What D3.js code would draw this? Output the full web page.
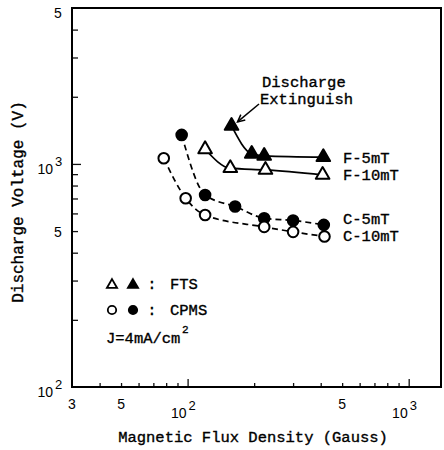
<!DOCTYPE html>
<html><head><meta charset="utf-8">
<script src="https://cdn.jsdelivr.net/npm/d3@7/dist/d3.min.js"></script>
<style>body{margin:0;background:#fff}svg{display:block}</style>
</head><body>
<svg id="c" width="444" height="450"></svg>
<script>
// ---- data ----
const xMinorTicks = [40, 50, 60, 70, 80, 90, 200, 300, 400, 500, 600, 700, 800, 900];
const xMajorTicks = [100, 1000];
const xLabelValues = [30, 50, 100, 500, 1000];
const xLabelBase = ["3", "5", "10", "5", "10"];
const xLabelSup = ["", "", "2", "", "3"];

const yMinorTicks = [200, 300, 400, 500, 600, 700, 800, 900, 2000, 3000, 4000];
const yMajorTicks = [1000];
const yLabelValues = [100, 500, 1000, 5000];
const yLabelBase = ["10", "5", "10", "5"];
const yLabelSup = ["2", "", "3", ""];

const seriesNames = ["F-5mT", "F-10mT", "C-5mT", "C-10mT"];
const f5Gauss = [158, 195, 222, 411];
const f5Volt = [1480, 1109, 1086, 1072];
const f10Gauss = [120, 156, 225, 408];
const f10Volt = [1164, 957, 940, 893];
const c5Gauss = [94, 120, 164, 222, 300, 413];
const c5Volt = [1349, 726, 644, 571, 558, 533];
const c10Gauss = [78, 98, 120, 222, 300, 416];
const c10Volt = [1061, 702, 590, 522, 496, 473];

const legendRows = ["FTS", "CPMS"];
const annotationLines = ["Discharge", "Extinguish"];

// ---- drawing ----
const svg = d3.select("#c");
const mono = "'Liberation Mono', 'Courier New', monospace";
const sans = "'Liberation Sans', Arial, sans-serif";
const x = d3.scaleLog().domain([30, 1400]).range([72, 441]);
const y = d3.scaleLog().domain([100, 5000]).range([387, 8]);

function monoText(px, py, str, size) {
  return svg.append("text").attr("x", px).attr("y", py)
    .attr("font-family", mono).attr("font-size", size || 15.5)
    .attr("stroke", "#000").attr("stroke-width", 0.35).attr("fill", "#000").text(str);
}

// ticks (inward)
function tickAxis(axisFn, vals, size, transform) {
  const g = svg.append("g").attr("transform", transform)
    .call(axisFn.tickValues(vals).tickSize(size).tickFormat(""));
  g.select(".domain").remove();
  g.selectAll("line").attr("stroke", "#111").attr("stroke-width", 1.3);
}
tickAxis(d3.axisBottom(x), xMinorTicks, -4, "translate(0,387)");
tickAxis(d3.axisBottom(x), xMajorTicks, -8, "translate(0,387)");
tickAxis(d3.axisLeft(y), yMinorTicks, -6, "translate(72,0)");
tickAxis(d3.axisLeft(y), yMajorTicks, -9, "translate(72,0)");

// frame
svg.append("rect").attr("x", x.range()[0]).attr("y", y.range()[1])
  .attr("width", x.range()[1] - x.range()[0]).attr("height", y.range()[0] - y.range()[1])
  .attr("fill", "none").attr("stroke", "#000").attr("stroke-width", 2);

// tick labels x
xLabelValues.forEach((v, i) => {
  const px = x(v);
  if (xLabelSup[i]) {
    svg.append("text").attr("x", px - 1).attr("y", 418).attr("text-anchor", "end")
      .attr("font-family", sans).attr("font-size", 14).text(xLabelBase[i]);
    svg.append("text").attr("x", px + 1).attr("y", 410).attr("text-anchor", "start")
      .attr("font-family", sans).attr("font-size", 13).text(xLabelSup[i]);
  } else {
    svg.append("text").attr("x", px).attr("y", 409).attr("text-anchor", "middle")
      .attr("font-family", sans).attr("font-size", 14).text(xLabelBase[i]);
  }
});
// tick labels y
yLabelValues.forEach((v, i) => {
  const py = y(v);
  if (yLabelSup[i]) {
    svg.append("text").attr("x", 53).attr("y", py + 10).attr("text-anchor", "end")
      .attr("font-family", sans).attr("font-size", 14).text(yLabelBase[i]);
    svg.append("text").attr("x", 55).attr("y", py + 2).attr("text-anchor", "start")
      .attr("font-family", sans).attr("font-size", 13).text(yLabelSup[i]);
  } else {
    svg.append("text").attr("x", 58).attr("y", Math.max(py + 6, 18)).attr("text-anchor", "middle")
      .attr("font-family", sans).attr("font-size", 14).text(yLabelBase[i]);
  }
});

// axis titles
monoText(253, 442, "Magnetic Flux Density (Gauss)").attr("text-anchor", "middle");
svg.append("text").attr("transform", "translate(23,202) rotate(-90)").attr("text-anchor", "middle")
  .attr("font-family", mono).attr("font-size", 16)
  .attr("stroke", "#000").attr("stroke-width", 0.35).text("Discharge Voltage (V)");

// series
const series = [
  {gx: f5Gauss, vy: f5Volt, shape: "tri", fill: "#000", dash: null, labDy: 6},
  {gx: f10Gauss, vy: f10Volt, shape: "tri", fill: "#fff", dash: null, labDy: 5},
  {gx: c5Gauss, vy: c5Volt, shape: "circ", fill: "#000", dash: "6,4", labDy: -1},
  {gx: c10Gauss, vy: c10Volt, shape: "circ", fill: "#fff", dash: "6,4", labDy: 5}
];
const line = d3.line().x(d => x(d[0])).y(d => y(d[1])).curve(d3.curveMonotoneX);
series.forEach(s => {
  const pts = s.gx.map((g, i) => [g, s.vy[i]]);
  svg.append("path").attr("d", line(pts)).attr("fill", "none")
    .attr("stroke", "#000").attr("stroke-width", 1.7)
    .attr("stroke-dasharray", s.dash);
});
const triSym = d3.symbol().type(d3.symbolTriangle).size(80);
series.forEach(s => {
  const pts = s.gx.map((g, i) => [g, s.vy[i]]);
  if (s.shape === "tri") {
    svg.append("g").selectAll("path").data(pts).join("path")
      .attr("d", triSym).attr("transform", d => `translate(${x(d[0])},${y(d[1])})`)
      .attr("fill", s.fill).attr("stroke", "#000").attr("stroke-width", 2)
      .attr("stroke-linejoin", "round");
  } else {
    svg.append("g").selectAll("circle").data(pts).join("circle")
      .attr("cx", d => x(d[0])).attr("cy", d => y(d[1])).attr("r", 5.3)
      .attr("fill", s.fill).attr("stroke", "#000").attr("stroke-width", 2);
  }
});

// series labels
series.forEach((s, i) => {
  const last = s.vy[s.vy.length - 1];
  monoText(343, y(last) + s.labDy, seriesNames[i]);
});

// annotation
monoText(262, 87, annotationLines[0]);
monoText(260, 104, annotationLines[1]);
{
  const tx = x(f5Gauss[0]) + 6, ty = y(f5Volt[0]) - 4;
  const sx = 259, sy = 104;
  svg.append("line").attr("x1", sx).attr("y1", sy).attr("x2", tx).attr("y2", ty)
    .attr("stroke", "#000").attr("stroke-width", 1.5);
  const ang = Math.atan2(ty - sy, tx - sx);
  const L = 8, W = 0.45;
  const p1 = [tx - L * Math.cos(ang - W), ty - L * Math.sin(ang - W)];
  const p2 = [tx - L * Math.cos(ang + W), ty - L * Math.sin(ang + W)];
  svg.append("path").attr("d", `M${p1}L${tx},${ty}L${p2}`).attr("fill", "none")
    .attr("stroke", "#000").attr("stroke-width", 1.5);
}

// legend
const legY = [284, 310];
legendRows.forEach((name, i) => {
  const cy = legY[i];
  if (i === 0) {
    svg.append("path").attr("d", d3.symbol().type(d3.symbolTriangle).size(45)())
      .attr("transform", `translate(112,${cy + 1})`).attr("fill", "#fff")
      .attr("stroke", "#000").attr("stroke-width", 1.8);
    svg.append("path").attr("d", d3.symbol().type(d3.symbolTriangle).size(45)())
      .attr("transform", `translate(133,${cy + 1})`).attr("fill", "#000")
      .attr("stroke", "#000").attr("stroke-width", 1.8);
  } else {
    svg.append("circle").attr("cx", 112).attr("cy", cy).attr("r", 4.2)
      .attr("fill", "#fff").attr("stroke", "#000").attr("stroke-width", 1.8);
    svg.append("circle").attr("cx", 133).attr("cy", cy).attr("r", 4.2)
      .attr("fill", "#000").attr("stroke", "#000").attr("stroke-width", 1.8);
  }
  monoText(152, cy + 5, ":").attr("text-anchor", "middle");
  monoText(170, cy + 5, name);
});
monoText(106, 343, "J=4mA/cm");
monoText(182, 333, "2", 11);
</script>
</body></html>
